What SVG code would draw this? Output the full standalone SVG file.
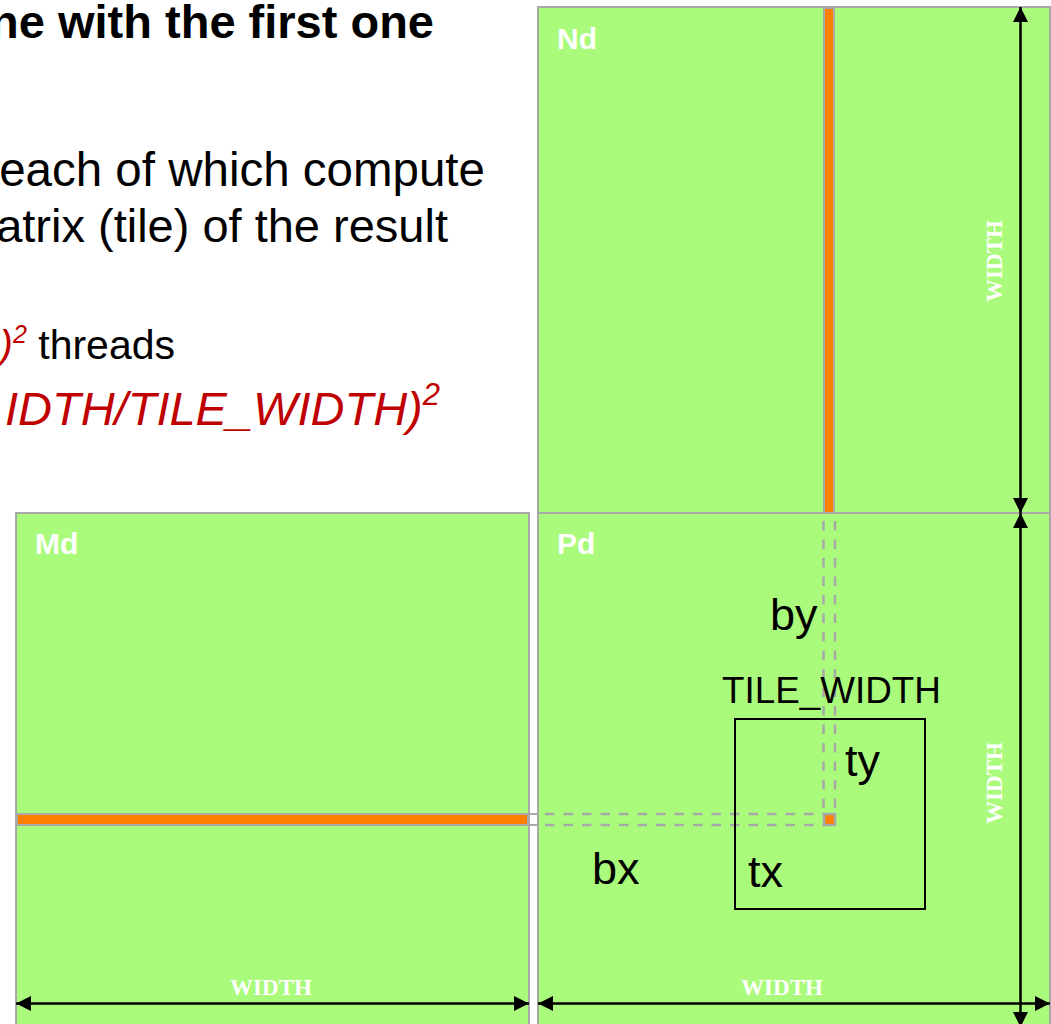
<svg xmlns="http://www.w3.org/2000/svg" width="1051" height="1024" viewBox="0 0 1051 1024">
  <defs>
    <style>
      .mat { fill: #aafb7b; stroke: #a8a8a8; stroke-width: 2; }
      .bar { fill: #ff8000; stroke: #a8a8a8; stroke-width: 2; }
      .dash { fill: none; stroke: #a8a8a8; stroke-width: 2.5; stroke-dasharray: 9.5 9; }
      .mlabel { font-family: "Liberation Sans", Arial, sans-serif; font-weight: bold; font-size: 30px; fill: #ffffff; }
      .wlabel { font-family: "Liberation Serif", "Times New Roman", serif; font-weight: bold; font-size: 23px; fill: #ffffff; }
      .big { font-family: "Liberation Sans", Arial, sans-serif; font-size: 45px; fill: #000000; }
      .body { font-family: "Liberation Sans", Arial, sans-serif; fill: #000000; }
      .red { fill: #c00000; font-style: italic; }
      .dim { stroke: #000000; stroke-width: 2.5; fill: none; }
    </style>
    <marker id="ah" viewBox="0 0 15 15" refX="15" refY="7.5" markerWidth="15" markerHeight="15" markerUnits="userSpaceOnUse" orient="auto-start-reverse">
      <path d="M0,0 L15,7.5 L0,15 Z" fill="#000000"/>
    </marker>
  </defs>

  <g id="slide-text">
    <text class="body" x="434" y="38" text-anchor="end" style="font-size:47px;font-weight:bold">ne with the first one</text>
    <text class="body" x="485" y="186" text-anchor="end" style="font-size:47.5px">each of which compute</text>
    <text class="body" x="448" y="242" text-anchor="end" style="font-size:47px">atrix (tile) of the result</text>
    <text class="body" x="175" y="359" text-anchor="end" style="font-size:41px"><tspan class="red">)</tspan><tspan class="red" style="font-size:25px" dy="-16">2</tspan><tspan dy="16"> threads</tspan></text>
    <text class="body" x="440" y="425" text-anchor="end" style="font-size:47px"><tspan class="red">IDTH/TILE_WIDTH)</tspan><tspan class="red" style="font-size:31px" dy="-20">2</tspan></text>
  </g>

  <g id="Nd">
    <rect class="mat" x="538" y="7" width="512" height="506"/>
    <rect class="bar" x="824" y="8" width="10" height="511"/>
    <text class="mlabel" x="557" y="49">Nd</text>
    <text class="wlabel" transform="translate(1002 261) rotate(-90)" text-anchor="middle">WIDTH</text>
  </g>

  <g id="Md">
    <rect class="mat" x="16" y="513" width="513" height="520"/>
    <rect class="bar" x="17" y="814" width="511" height="11"/>
    <text class="mlabel" x="35" y="554">Md</text>
    <text class="wlabel" x="271" y="995" text-anchor="middle">WIDTH</text>
  </g>

  <g id="Pd">
    <rect class="mat" x="538" y="513" width="512" height="520"/>
    <text class="mlabel" x="557" y="554">Pd</text>
    <text class="wlabel" x="782" y="995" text-anchor="middle">WIDTH</text>
    <text class="wlabel" transform="translate(1002 783) rotate(-90)" text-anchor="middle">WIDTH</text>
  </g>

  <g id="gap-link">
    <line x1="529" y1="814" x2="538" y2="814" stroke="#a8a8a8" stroke-width="2"/>
    <line x1="529" y1="825" x2="538" y2="825" stroke="#a8a8a8" stroke-width="2"/>
  </g>

  <g id="guides">
    <line class="dash" x1="823.5" y1="521" x2="823.5" y2="813"/>
    <line class="dash" x1="835" y1="521" x2="835" y2="813"/>
    <line class="dash" x1="545" y1="814" x2="823" y2="814"/>
    <line class="dash" x1="545" y1="825" x2="823" y2="825"/>
    <rect class="bar" x="824" y="814" width="11" height="11" style="stroke-width:2.5"/>
  </g>

  <g id="tile">
    <rect x="735" y="719" width="190" height="190" fill="none" stroke="#000000" stroke-width="2"/>
    <text class="big" x="722" y="703" style="font-size:36.8px">TILE_WIDTH</text>
    <text class="big" x="770" y="630">by</text>
    <text class="big" x="845" y="776">ty</text>
    <text class="big" x="592" y="884">bx</text>
    <text class="big" x="748" y="887">tx</text>
  </g>

  <g id="connectors">
    <line class="dim" x1="1020.5" y1="7" x2="1020.5" y2="513" marker-start="url(#ah)" marker-end="url(#ah)"/>
    <line class="dim" x1="1020.5" y1="513" x2="1020.5" y2="1027" marker-start="url(#ah)" marker-end="url(#ah)"/>
    <line class="dim" x1="16" y1="1003.5" x2="529" y2="1003.5" marker-start="url(#ah)" marker-end="url(#ah)"/>
    <line class="dim" x1="538" y1="1003.5" x2="1050" y2="1003.5" marker-start="url(#ah)" marker-end="url(#ah)"/>
  </g>
</svg>
